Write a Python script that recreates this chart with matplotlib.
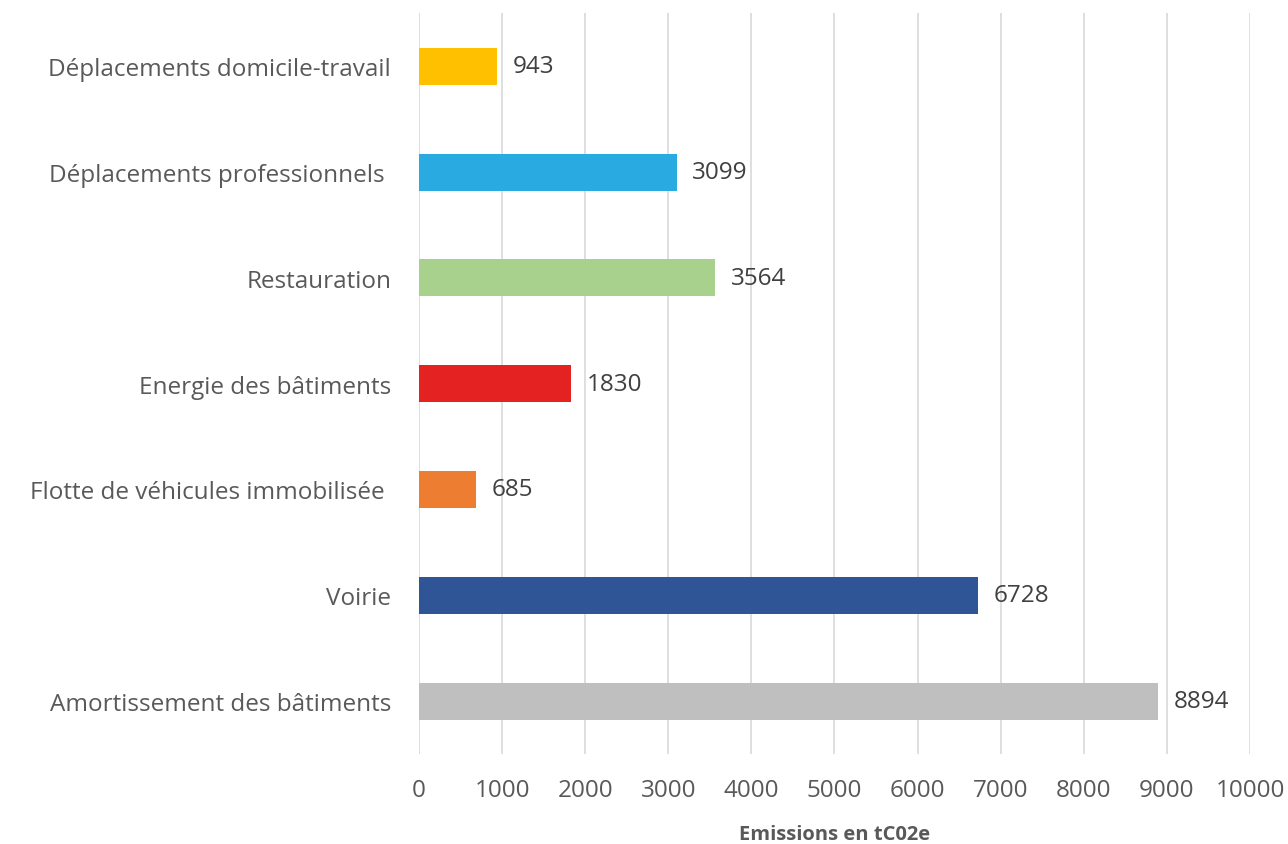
import matplotlib.pyplot as plt

plt.rcParams['font.family'] = ['Open Sans', 'DejaVu Sans']

# données (de haut en bas)
categories = ['Déplacements domicile-travail', 'Déplacements professionnels ',
              'Restauration', 'Energie des bâtiments',
              'Flotte de véhicules immobilisée ', 'Voirie',
              'Amortissement des bâtiments']
values = [943, 3099, 3564, 1830, 685, 6728, 8894]
colors = ['#FFC000', '#29ABE2', '#A9D18E', '#E52222', '#ED7D31', '#2F5597', '#BFBFBF']
ticks = list(range(0, 10001, 1000))

txt = '#595959'

fig = plt.figure(figsize=(12.88, 8.45), dpi=100)
ax = fig.add_axes([0.3253, 0.1065, 0.6452, 0.8765])

y = list(range(len(categories)))
ax.barh(y, values, height=0.35, color=colors, zorder=3)
for yi, v in zip(y, values):
    ax.annotate(str(v), (v, yi), xytext=(11, 0), textcoords='offset points',
                va='center', ha='left', fontsize=17.5, color='#404040')

ax.set_ylim(len(categories) - 0.5, -0.5)
ax.set_xlim(0, 10000)
ax.set_xticks(ticks)
ax.set_yticks(y)
ax.set_yticklabels(categories)
ax.tick_params(axis='y', length=0, pad=20, labelsize=17.5, labelcolor=txt)
ax.tick_params(axis='x', length=0, pad=17, labelsize=17.5, labelcolor=txt)
ax.grid(axis='x', color='#D9D9D9', linewidth=1.2, zorder=0)
for s in ax.spines.values():
    s.set_visible(False)

ax.set_xlabel('Emissions en tC02e', fontsize=14.5, fontweight='bold', color=txt, labelpad=16)

fig.savefig('out.png', dpi=100)
